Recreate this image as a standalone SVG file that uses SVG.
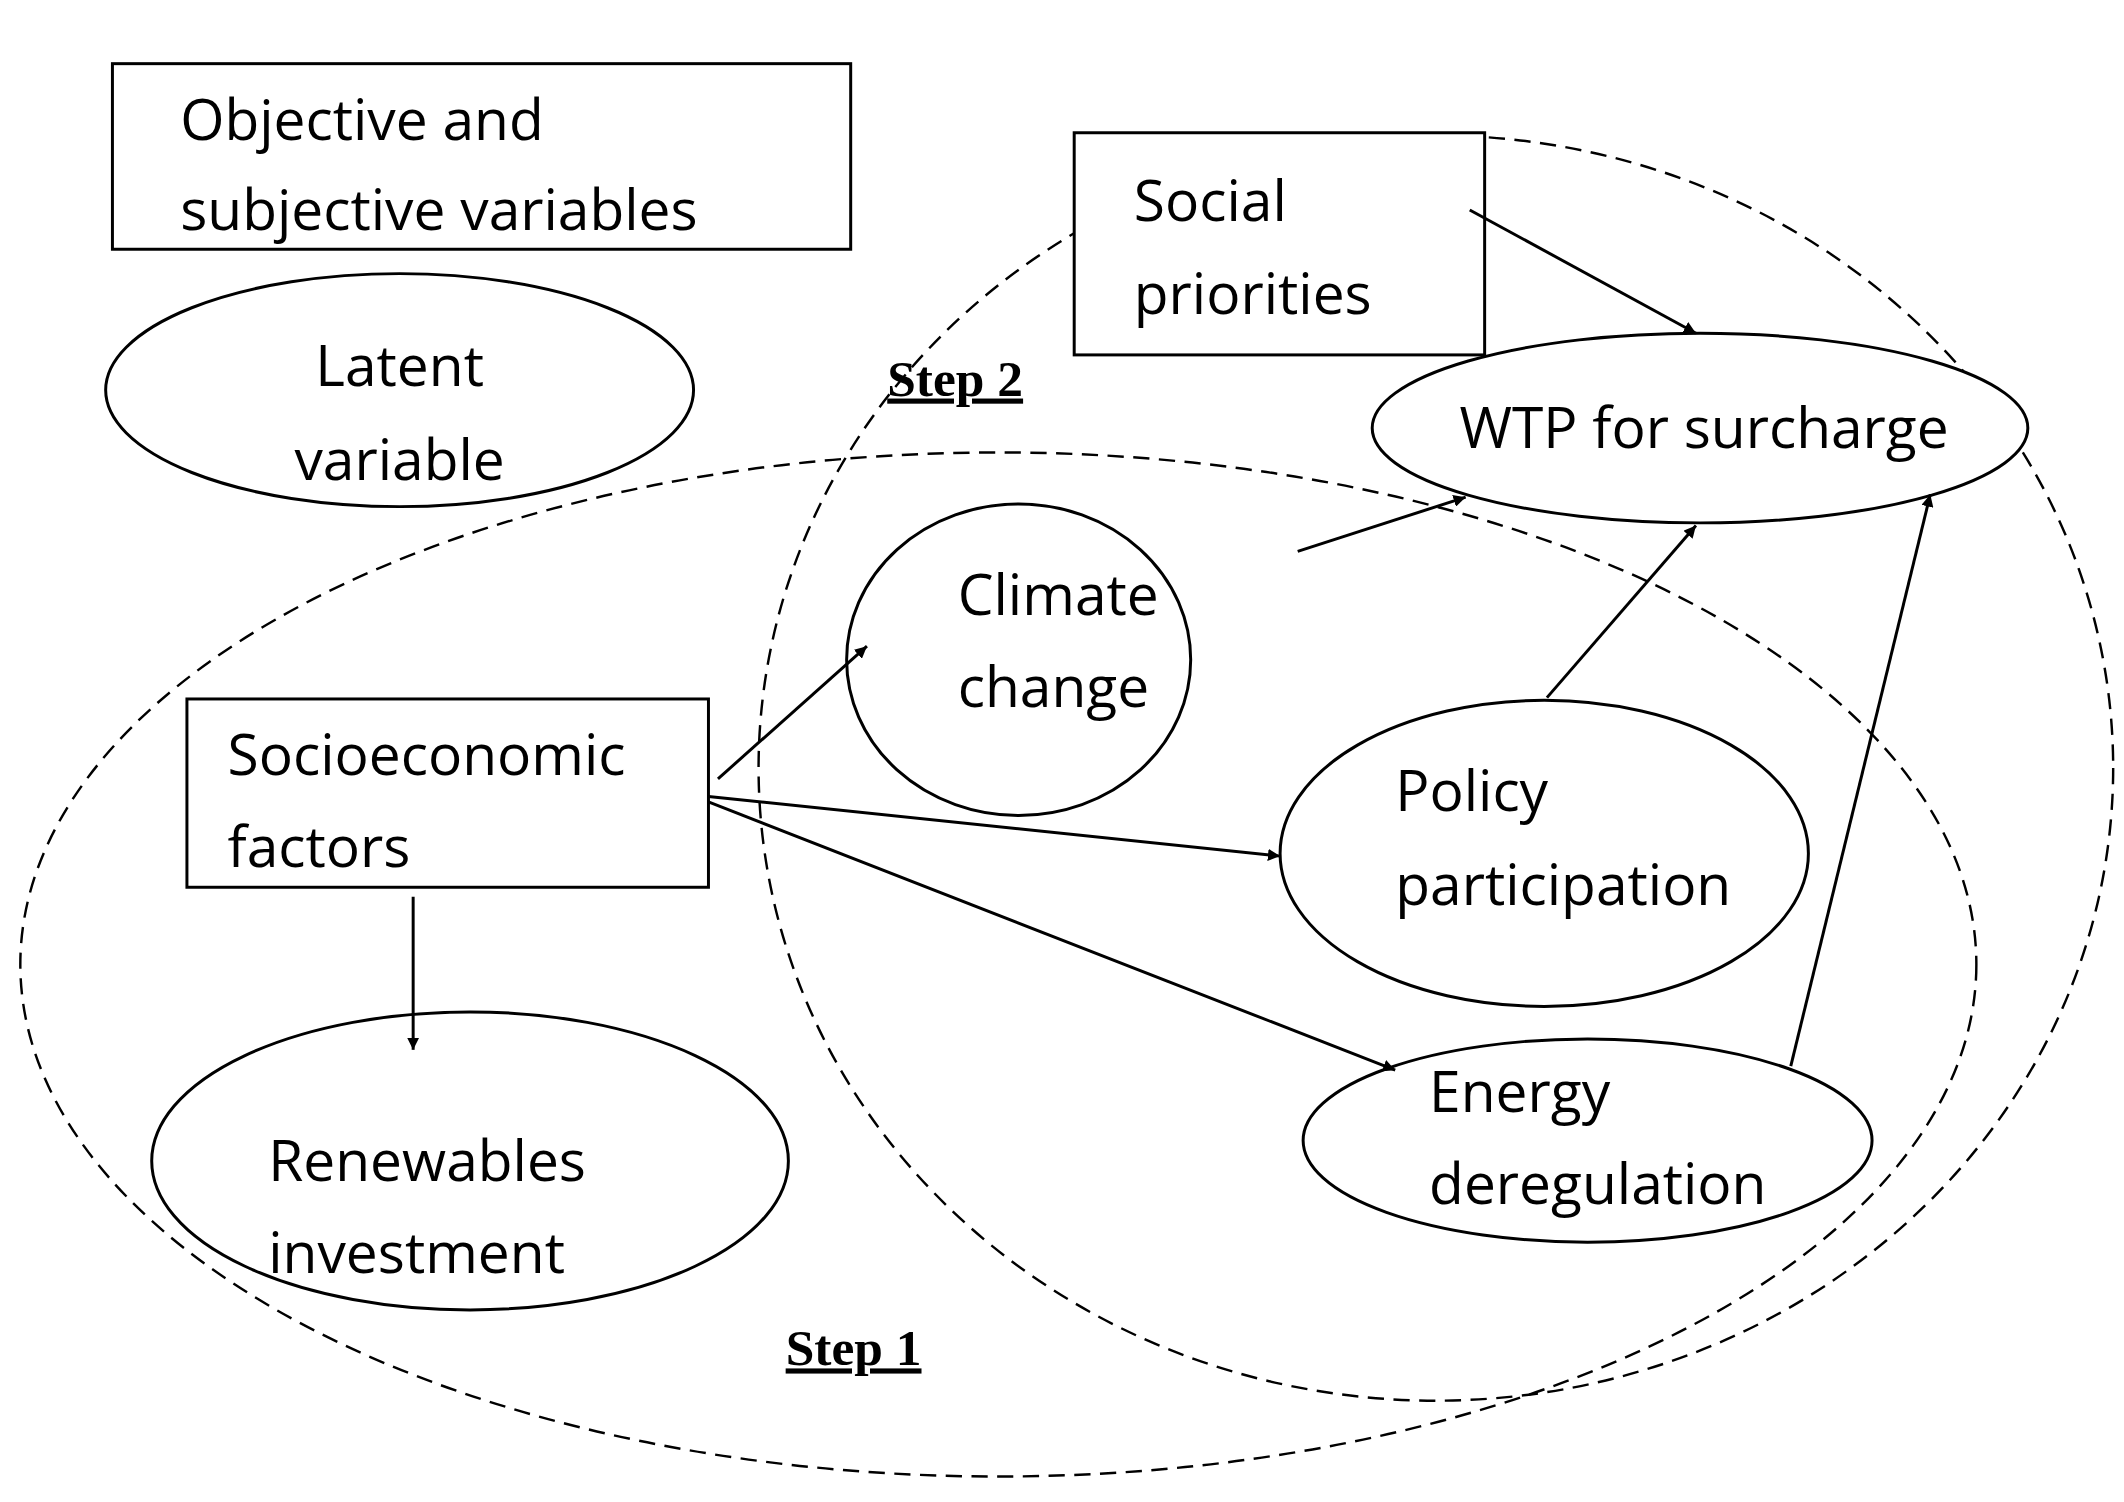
<svg xmlns="http://www.w3.org/2000/svg" width="2124" height="1502" viewBox="0 0 2124 1502">
<defs>
<marker id="ah" viewBox="0 0 10 10" refX="10" refY="5" markerWidth="9" markerHeight="9" markerUnits="userSpaceOnUse" orient="auto"><path d="M0,0 L10,5 L0,10 z" fill="#000"/></marker>
<style>
.n{fill:#fff;stroke:#000;stroke-width:2.2}
.d{fill:none;stroke:#000;stroke-width:1.8;stroke-dasharray:12,7}
.t{font-family:"Open Sans","DejaVu Sans",sans-serif;font-size:42px;fill:#000}
.s{font-family:"Liberation Serif",serif;font-size:38px;font-weight:bold;text-decoration:underline;fill:#000}
.c line{stroke:#000;stroke-width:2.2;marker-end:url(#ah)}
</style>
</defs>
<rect width="2124" height="1502" fill="#fff"/>
<g transform="scale(1.3546)">
<g id="areas">
<ellipse class="d" cx="737" cy="712" rx="722" ry="378"/>
<ellipse class="d" cx="1060" cy="567" rx="500" ry="467"/>
<text class="s" x="655" y="292">Step 2</text>
<text class="s" x="580" y="1008">Step 1</text>
</g>
<g id="legend-box"><rect class="n" x="83" y="47" width="545" height="137"/>
<text class="t" x="133" y="103">Objective and</text><text class="t" x="133" y="170">subjective variables</text></g>
<g id="legend-ellipse"><ellipse class="n" cx="295" cy="288" rx="217" ry="86"/>
<text class="t" x="295" y="285" text-anchor="middle">Latent</text><text class="t" x="295" y="354" text-anchor="middle">variable</text></g>
<g id="social"><rect class="n" x="793" y="98" width="303" height="164"/>
<text class="t" x="837" y="163">Social</text><text class="t" x="837" y="232">priorities</text></g>
<g id="wtp"><ellipse class="n" cx="1255" cy="316" rx="242" ry="70"/>
<text class="t" x="1258" y="331" text-anchor="middle">WTP for surcharge</text></g>
<g id="climate"><ellipse class="n" cx="752" cy="487" rx="127" ry="115"/>
<text class="t" x="707" y="454">Climate</text><text class="t" x="707" y="522">change</text></g>
<g id="policy"><ellipse class="n" cx="1140" cy="630" rx="195" ry="113"/>
<text class="t" x="1030" y="599">Policy</text><text class="t" x="1030" y="668">participation</text></g>
<g id="energy"><ellipse class="n" cx="1172" cy="842" rx="210" ry="75"/>
<text class="t" x="1055" y="821">Energy</text><text class="t" x="1055" y="889">deregulation</text></g>
<g id="socio"><rect class="n" x="138" y="516" width="385" height="139"/>
<text class="t" x="168" y="572">Socioeconomic</text><text class="t" x="168" y="640">factors</text></g>
<g id="renew"><ellipse class="n" cx="347" cy="857" rx="235" ry="110"/>
<text class="t" x="198" y="872">Renewables</text><text class="t" x="198" y="940">investment</text></g>
<g id="connectors" class="c">
<line x1="1085" y1="155" x2="1252" y2="246"/>
<line x1="958" y1="407" x2="1082" y2="367"/>
<line x1="1142" y1="515" x2="1252" y2="388"/>
<line x1="1322" y1="787" x2="1425" y2="365"/>
<line x1="530" y1="575" x2="640" y2="477"/>
<line x1="523" y1="588" x2="945" y2="632"/>
<line x1="523" y1="592" x2="1030" y2="790"/>
<line x1="305" y1="662" x2="305" y2="775"/>
</g>
</g>
</svg>
